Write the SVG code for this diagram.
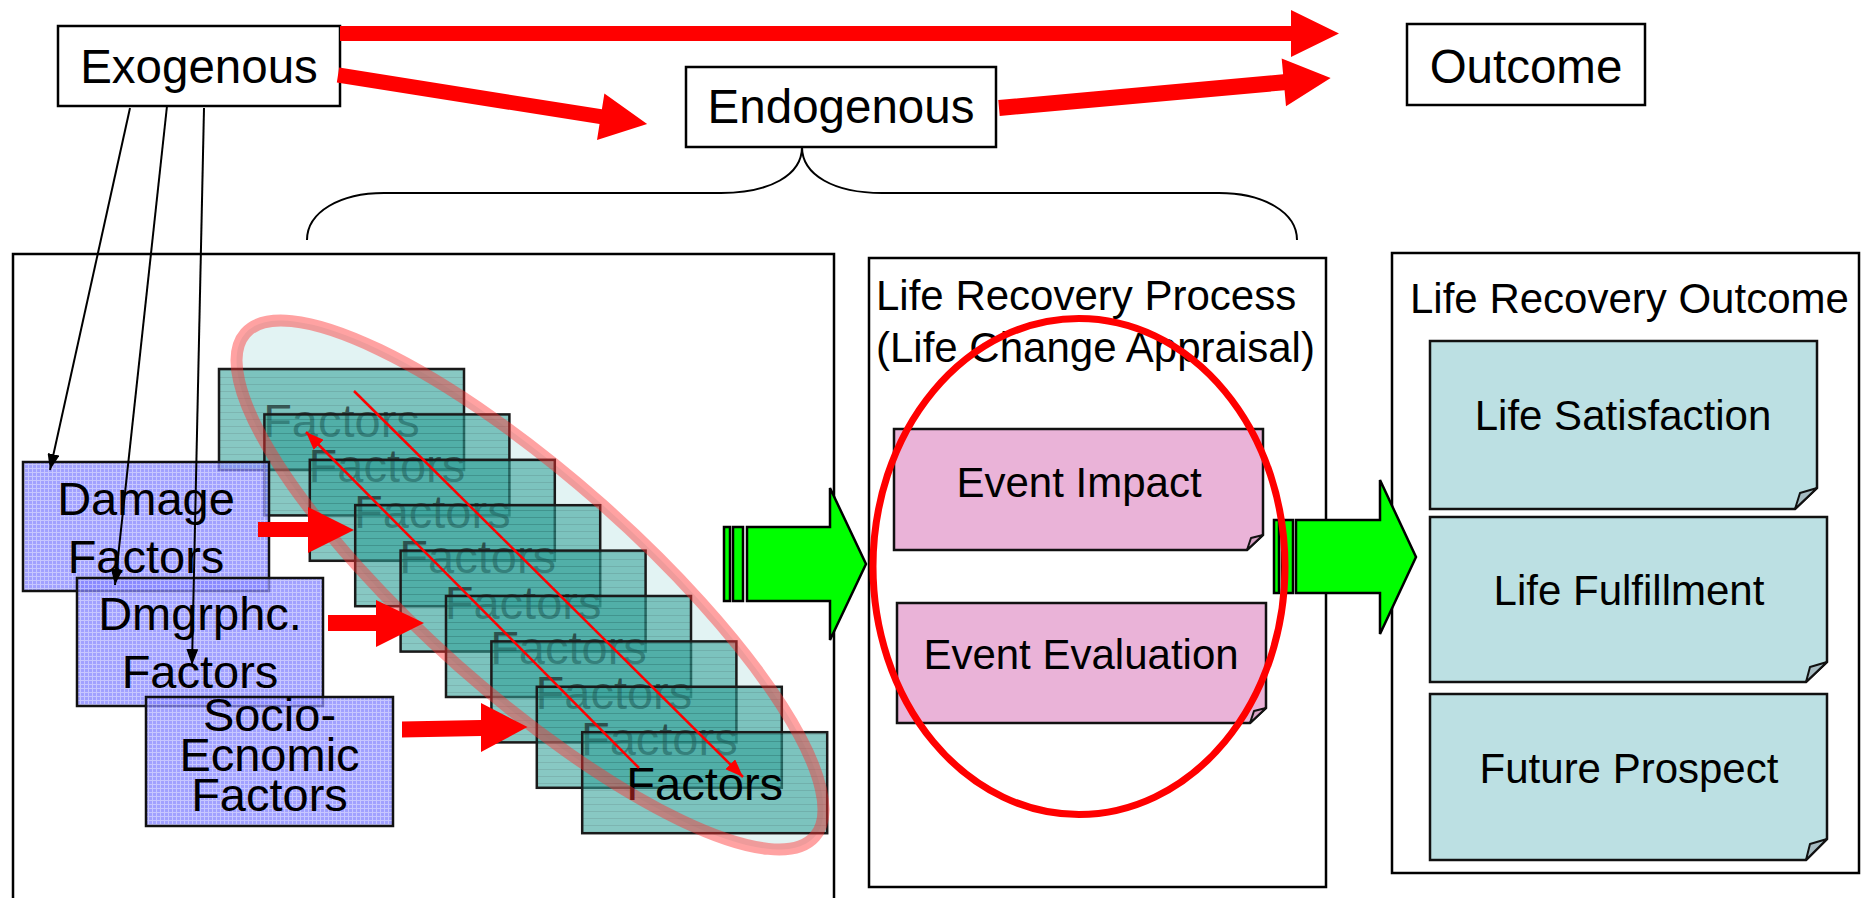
<svg xmlns="http://www.w3.org/2000/svg" width="1865" height="898" viewBox="0 0 1865 898">
<defs>
<pattern id="bluePat" patternUnits="userSpaceOnUse" width="4" height="4">
<rect width="4" height="4" fill="#8282ff"/>
<rect width="4" height="1" fill="#b4b4ff"/>
<rect width="1" height="4" fill="#b4b4ff"/>
</pattern>
<pattern id="tealPat" patternUnits="userSpaceOnUse" width="8" height="7">
<rect width="8" height="7" fill="#32a098"/>
<rect y="6" width="8" height="1" fill="#1f7f78"/>
</pattern>
<marker id="blackHead" viewBox="0 0 16 12" refX="16" refY="6" markerWidth="16" markerHeight="12" markerUnits="userSpaceOnUse" orient="auto">
<path d="M0,0 L16,6 L0,12 Z" fill="#000"/>
</marker>
<marker id="redHead" viewBox="0 0 18 14" refX="18" refY="7" markerWidth="18" markerHeight="14" markerUnits="userSpaceOnUse" orient="auto">
<path d="M0,0 L18,7 L0,14 Z" fill="#ff0000"/>
</marker>
</defs>
<style>
text{font-family:"Liberation Sans",Arial,sans-serif;fill:#000}
.big{font-size:47.5px;text-anchor:middle}
.mid{font-size:42px}
.midc{font-size:42px;text-anchor:middle}
.bf{font-size:47px;text-anchor:middle}
.box{fill:#fff;stroke:#000;stroke-width:2.5}
.cont{fill:#fff;stroke:#000;stroke-width:2.5}
.red{fill:#ff0000;stroke:none}
.blue{fill:url(#bluePat);fill-opacity:0.75;stroke:#111;stroke-width:2.5}
.teal{fill:url(#tealPat);fill-opacity:0.58;stroke:#1a1a1a;stroke-width:2.5}
.ft{font-size:47px;text-anchor:middle;fill:#1e2e2d;fill-opacity:0.72}
.ftl{font-size:47px;text-anchor:middle;fill:#000}
.pink{fill:#eab3d8;stroke:#111;stroke-width:2.5}
.pfold{fill:#d8a3c6;stroke:#111;stroke-width:2;stroke-linejoin:round}
.lb{fill:#bce0e3;stroke:#111;stroke-width:2.5}
.lfold{fill:#a6bcc2;stroke:#111;stroke-width:2;stroke-linejoin:round}
.green{fill:#00ff00;stroke:#000;stroke-width:2.5}
.thin{fill:none;stroke:#000;stroke-width:2}
.blk{fill:none;stroke:#000;stroke-width:2;marker-end:url(#blackHead)}
.rline{fill:none;stroke:#ff0000;stroke-width:2.5;marker-end:url(#redHead)}
</style>

<g id="container-left"><rect class="cont" x="13" y="254" width="821" height="660"/></g>
<g id="container-process"><rect class="cont" x="869" y="258" width="457" height="629"/></g>
<g id="container-outcome"><rect class="cont" x="1392" y="253" width="467" height="620"/></g>

<g id="brace"><path class="thin" d="M307,240 C307,212 340,193 384,193 L721,193 C770,193 802,175 802,147 C802,175 834,193 882,193 L1219,193 C1263,193 1297,212 1297,240"/></g>

<g id="node-exogenous"><rect class="box" x="58" y="26" width="282" height="80"/><text class="big" x="199" y="83">Exogenous</text></g>
<g id="node-endogenous"><rect class="box" x="686" y="67" width="310" height="80"/><text class="big" x="841" y="123">Endogenous</text></g>
<g id="node-outcome"><rect class="box" x="1407" y="24" width="238" height="81"/><text class="big" x="1526" y="83">Outcome</text></g>

<ellipse cx="530" cy="585" rx="380" ry="108" transform="rotate(41.5 530 585)" fill="#e2f3f3" stroke="none"/>

<g id="factors-stack">
<g id="factors-1"><rect class="teal" x="219" y="369" width="245" height="101"/><text class="ft" x="341.5" y="437">Factors</text></g>
<g id="factors-2"><rect class="teal" x="264.4" y="414.4" width="245" height="101"/><text class="ft" x="386.9" y="482.4">Factors</text></g>
<g id="factors-3"><rect class="teal" x="309.8" y="459.8" width="245" height="101"/><text class="ft" x="432.3" y="527.8">Factors</text></g>
<g id="factors-4"><rect class="teal" x="355.2" y="505.2" width="245" height="101"/><text class="ft" x="477.7" y="573.2">Factors</text></g>
<g id="factors-5"><rect class="teal" x="400.6" y="550.6" width="245" height="101"/><text class="ft" x="523.1" y="618.6">Factors</text></g>
<g id="factors-6"><rect class="teal" x="446" y="596" width="245" height="101"/><text class="ft" x="568.5" y="664">Factors</text></g>
<g id="factors-7"><rect class="teal" x="491.4" y="641.4" width="245" height="101"/><text class="ft" x="613.9" y="709.4">Factors</text></g>
<g id="factors-8"><rect class="teal" x="536.8" y="686.8" width="245" height="101"/><text class="ft" x="659.3" y="754.8">Factors</text></g>
<g id="factors-9"><rect class="teal" x="582.2" y="732.2" width="245" height="101"/><text class="ftl" x="704.7" y="800.2">Factors</text></g>
</g>

<ellipse cx="530" cy="585" rx="380" ry="108" transform="rotate(41.5 530 585)" fill="none" stroke="#ff3030" stroke-opacity="0.45" stroke-width="12"/>

<g id="node-damage"><rect class="blue" x="23" y="462" width="246" height="129"/><text class="bf" x="146" y="515">Damage</text><text class="bf" x="146" y="573">Factors</text></g>
<g id="node-dmgrphc"><rect class="blue" x="77" y="578" width="246" height="128"/><text class="bf" x="200" y="630">Dmgrphc.</text><text class="bf" x="200" y="688">Factors</text></g>
<g id="node-socio"><rect class="blue" x="146" y="697" width="247" height="129"/><text class="bf" x="269.5" y="731">Socio-</text><text class="bf" x="269.5" y="771">Ecnomic</text><text class="bf" x="269.5" y="811">Factors</text></g>

<g id="label-process"><text class="mid" x="876" y="310">Life Recovery Process</text><text class="mid" x="876" y="362">(Life Change Appraisal)</text></g>
<g id="node-event-impact"><path class="pink" d="M894,429 H1263 V535 L1247,550 H894 Z"/><polygon class="pfold" points="1263,535 1251,538 1247,550"/><text class="midc" x="1079" y="497">Event Impact</text></g>
<g id="node-event-evaluation"><path class="pink" d="M897,603 H1266 V708 L1250,723 H897 Z"/><polygon class="pfold" points="1266,708 1254,711 1250,723"/><text class="midc" x="1081" y="669">Event Evaluation</text></g>

<g id="label-outcome"><text class="mid" x="1410" y="312.5">Life Recovery Outcome</text></g>
<g id="node-life-satisfaction"><path class="lb" d="M1430,341 H1817 V488 L1795,509 H1430 Z"/><polygon class="lfold" points="1817,488 1800,493 1795,509"/><text class="midc" x="1623" y="430">Life Satisfaction</text></g>
<g id="node-life-fulfillment"><path class="lb" d="M1430,517 H1827 V662 L1806,682 H1430 Z"/><polygon class="lfold" points="1827,662 1810,667 1806,682"/><text class="midc" x="1629" y="605">Life Fulfillment</text></g>
<g id="node-future-prospect"><path class="lb" d="M1430,694 H1827 V839 L1806,860 H1430 Z"/><polygon class="lfold" points="1827,839 1810,844 1806,860"/><text class="midc" x="1629" y="783">Future Prospect</text></g>

<g id="connectors">
<polygon class="red" points="340,26 1291,26 1291,10 1339,33.5 1291,57 1291,41 340,41"/>
<polygon class="red" transform="translate(338,75) rotate(9.02)" points="0,-7.5 266,-7.5 266,-23.5 313,0 266,23.5 266,7.5 0,7.5"/>
<polygon class="red" transform="translate(999,108) rotate(-5.16)" points="0,-8 286,-8 286,-24 333,0 286,24 286,8 0,8"/>
<polygon class="red" points="258,522 308,522 308,507 354,530 308,553 308,537 258,537"/>
<polygon class="red" points="328,615 376,615 376,600 424,623 376,647 376,631 328,631"/>
<polygon class="red" points="402,721.5 481,720 481,703 527.5,727 481,752 481,736 402,737.5"/>
<line class="rline" x1="354" y1="391" x2="743" y2="777"/>
<line class="rline" x1="639" y1="768" x2="306" y2="432"/>
<line class="blk" x1="130" y1="108" x2="50" y2="470"/>
<line class="blk" x1="167" y1="106" x2="115" y2="585"/>
<line class="blk" x1="204" y1="108" x2="192" y2="665"/>
<g id="green-arrow-1">
<rect class="green" x="724" y="527" width="6" height="74"/>
<rect class="green" x="733" y="527" width="10" height="74"/>
<polygon class="green" points="747,527 830,527 830,488 866,564 830,640 830,601 747,601"/>
</g>
<g id="green-arrow-2">
<rect class="green" x="1274" y="520" width="5" height="73"/>
<rect class="green" x="1282" y="520" width="11" height="73"/>
<polygon class="green" points="1296,520 1380,520 1380,480 1416,557 1380,634 1380,593 1296,593"/>
</g>
</g>

<ellipse cx="1079" cy="566.5" rx="206" ry="248" fill="none" stroke="#ff0000" stroke-width="7"/>
</svg>
